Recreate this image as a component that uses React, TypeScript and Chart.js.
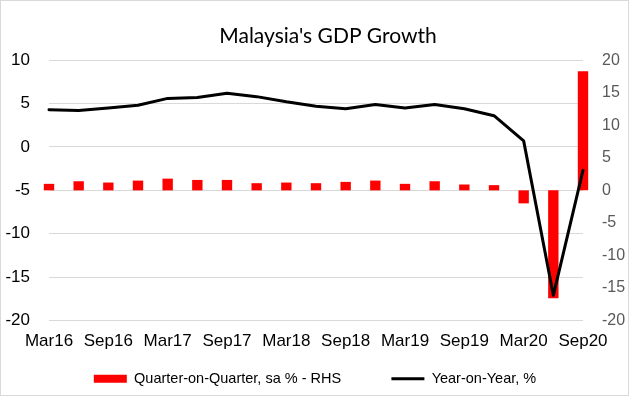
import React, { useEffect, useRef } from "react";
import { Chart, registerables } from "chart.js";

Chart.register(...registerables);

const categories = [
  "Mar16", "Jun16", "Sep16", "Dec16",
  "Mar17", "Jun17", "Sep17", "Dec17",
  "Mar18", "Jun18", "Sep18", "Dec18",
  "Mar19", "Jun19", "Sep19", "Dec19",
  "Mar20", "Jun20", "Sep20",
];

// Quarter-on-Quarter, sa % (right axis)
const qoqValues = [
  1.0, 1.4, 1.2, 1.5,
  1.8, 1.6, 1.6, 1.1,
  1.2, 1.1, 1.3, 1.5,
  1.0, 1.4, 0.9, 0.8,
  -2.0, -16.6, 18.3,
];

// Year-on-Year, % (left axis)
const yoyValues = [
  4.3, 4.2, 4.5, 4.8,
  5.6, 5.7, 6.2, 5.8,
  5.2, 4.7, 4.4, 4.9,
  4.5, 4.9, 4.4, 3.6,
  0.7, -17.1, -2.7,
];

const titleText = "Malaysia's GDP Growth";
const qoqLabel = "Quarter-on-Quarter, sa % - RHS";
const yoyLabel = "Year-on-Year, %";

const leftAxisRange = [-20, 10];
const rightAxisRange = [-20, 20];
const tickStep = 5;

const titleShift = {
  id: "titleShift",
  afterLayout(chart: any) {
    if (chart.titleBlock) {
      chart.titleBlock.left = 26;
    }
  },
};

export default function App() {
  const canvasRef = useRef<HTMLCanvasElement | null>(null);

  useEffect(() => {
    const canvas = canvasRef.current;
    if (!canvas) return;
    const chart = new Chart(canvas, {
      type: "bar",
      plugins: [titleShift],
      data: {
        labels: categories,
        datasets: [
          {
            type: "bar",
            label: qoqLabel,
            data: qoqValues,
            yAxisID: "y2",
            backgroundColor: "#ff0000",
            borderWidth: 0,
            categoryPercentage: 1,
            barPercentage: 0.35,
            clip: false,
            order: 2,
          },
          {
            type: "line",
            label: yoyLabel,
            data: yoyValues,
            yAxisID: "y",
            borderColor: "#000000",
            backgroundColor: "#000000",
            borderWidth: 3,
            pointRadius: 0,
            tension: 0,
            borderJoinStyle: "round",
            borderCapStyle: "round",
            clip: false,
            order: 1,
          } as any,
        ],
      },
      options: {
        responsive: false,
        animation: false,
        devicePixelRatio: 1,
        layout: { padding: { left: 0, right: 0, top: 0, bottom: 0 } },
        plugins: {
          tooltip: { enabled: false },
          title: {
            display: true,
            text: titleText,
            color: "#000000",
            font: { family: "Lato", size: 21, weight: "normal", lineHeight: 1.2 },
            padding: { top: 24, bottom: 11 },
          },
          legend: {
            display: true,
            position: "bottom",
            labels: {
              usePointStyle: true,
              pointStyleWidth: 33,
              boxHeight: 8,
              padding: 5,
              color: "#000000",
              font: { family: "Liberation Sans", size: 14.5 },
              generateLabels: () => [
                {
                  text: qoqLabel,
                  fillStyle: "#ff0000",
                  strokeStyle: "#ff0000",
                  fontColor: "#000000",
                  lineWidth: 0,
                  pointStyle: "rect",
                  rotation: 0,
                  hidden: false,
                  datasetIndex: 0,
                },
                {
                  text: "",
                  fillStyle: "rgba(0,0,0,0)",
                  strokeStyle: "rgba(0,0,0,0)",
                  fontColor: "#000000",
                  lineWidth: 0,
                  pointStyle: "rect",
                  rotation: 0,
                  hidden: false,
                },
                {
                  text: yoyLabel,
                  fillStyle: "#000000",
                  strokeStyle: "#000000",
                  fontColor: "#000000",
                  lineWidth: 3,
                  pointStyle: "line",
                  rotation: 0,
                  hidden: false,
                  datasetIndex: 1,
                },
              ] as any,
            },
          },
        },
        scales: {
          x: {
            type: "category",
            offset: false,
            grid: { display: false, drawTicks: false },
            border: { display: false },
            ticks: {
              autoSkip: false,
              maxRotation: 0,
              minRotation: 0,
              padding: 11,
              color: "#000000",
              font: { family: "Liberation Sans", size: 17 },
              callback: (_v: any, i: number) => (i % 2 === 0 ? categories[i] : ""),
            },
            afterFit: (scale: any) => {
              scale.height = 46;
            },
          },
          y: {
            type: "linear",
            position: "left",
            min: leftAxisRange[0],
            max: leftAxisRange[1],
            grid: { color: "#d9d9d9", lineWidth: 1, drawTicks: false },
            border: { display: false },
            ticks: {
              stepSize: tickStep,
              padding: 19,
              color: "#000000",
              font: { family: "Liberation Sans", size: 17 },
            },
            afterFit: (scale: any) => {
              scale.width = 49;
            },
          },
          y2: {
            type: "linear",
            position: "right",
            min: rightAxisRange[0],
            max: rightAxisRange[1],
            grid: { display: false, drawTicks: false },
            border: { display: false },
            ticks: {
              stepSize: tickStep,
              padding: 19,
              color: "#595959",
              font: { family: "Liberation Sans", size: 16 },
            },
            afterFit: (scale: any) => {
              scale.width = 47;
            },
          },
        },
      } as any,
    });
    return () => chart.destroy();
  }, []);

  return (
    <div style={{ position: "absolute", left: 0, top: 0, width: 630, height: 396, background: "#ffffff" }}>
      <canvas ref={canvasRef} width={630} height={396} style={{ display: "block", width: 630, height: 396 }} />
      <div
        style={{
          position: "absolute",
          left: 0,
          top: 0,
          width: 629,
          height: 396,
          boxSizing: "border-box",
          border: "1px solid #d9d9d9",
          pointerEvents: "none",
        }}
      />
    </div>
  );
}
